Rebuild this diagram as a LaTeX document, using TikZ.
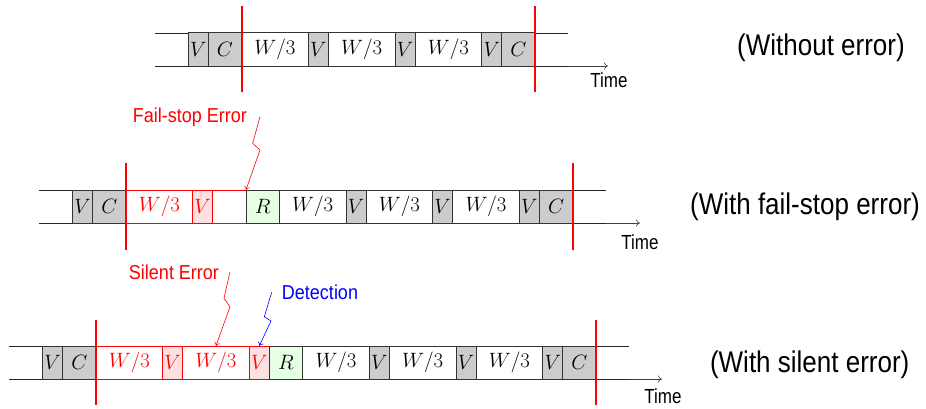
\documentclass[tikz,border=0pt]{standalone}
\usepackage{fontspec}
\newfontfamily\helv{Liberation Sans}
\usepackage{graphicx}
\usetikzlibrary{arrows.meta}
\newcommand{\tallsf}[2]{\scalebox{1}[#1]{#2}}
\tikzset{
  box/.style={draw=black!80, line width=0.7pt, minimum height=33.3pt, inner sep=0pt, outer sep=0pt, anchor=west, font=\fontsize{19.5}{20}\selectfont},
  vbox/.style={box, fill=gray!40, minimum width=20pt},
  cbox/.style={box, fill=gray!40, minimum width=33.33pt},
  wbox/.style={box, fill=white, minimum width=66.67pt},
  rbox/.style={box, fill=green!10, minimum width=33.33pt},
  errw/.style={wbox, draw=red, text=red},
  errv/.style={vbox, fill=red!12, draw=red, text=red},
  erre/.style={cbox, fill=white, draw=red},
  tline/.style={black!85, line width=0.9pt},
  axis/.style={black!75, line width=0.6pt, -{To[length=4pt,width=7pt]}},
  ckpt/.style={red, line width=2pt},
  timelbl/.style={font=\helv\fontsize{17}{17}\selectfont, anchor=base, inner sep=0pt},
  rowlbl/.style={font=\helv\fontsize{26}{26}\selectfont, anchor=base, inner sep=0pt},
  errlbl/.style={font=\helv\fontsize{18}{18}\selectfont, anchor=base, inner sep=0pt},
  errarrow/.style={line width=0.6pt, -{To[length=3.5pt,width=6pt]}},
}
\begin{document}
\begin{tikzpicture}[x=1pt,y=-1pt]
\useasboundingbox (0,0) rectangle (926,409);

% ---------- Row 1: without error ----------
\coordinate (s1t) at (155,33); \coordinate (s1b) at (155,66);
\coordinate (e1t) at (568,33); \coordinate (e1b) at (568,66);
\coordinate (t1) at (608,66);
\draw[tline] (s1t) -- (e1t);
\draw[tline] (s1b) -- (e1b);
\draw[axis] (e1b) -- (t1);
\node[vbox] (a1) at (188.33,49.5) {$V$};
\node[cbox] (a2) at (a1.east) {$C$};
\node[wbox] (a3) at (a2.east) {$W/3$};
\node[vbox] (a4) at (a3.east) {$V$};
\node[wbox] (a5) at (a4.east) {$W/3$};
\node[vbox] (a6) at (a5.east) {$V$};
\node[wbox] (a7) at (a6.east) {$W/3$};
\node[vbox] (a8) at (a7.east) {$V$};
\node[cbox] (a9) at (a8.east) {$C$};
\draw[ckpt] ([yshift=27pt]a2.north east) -- ([yshift=-26pt]a2.south east);
\draw[ckpt] ([yshift=27pt]a9.north east) -- ([yshift=-26pt]a9.south east);
\node[timelbl] (tm1) at (609,87.5) {\tallsf{1.2}{Time}};
\node[rowlbl] (l1) at (821,56) {\tallsf{1.15}{(Without error)}};

% ---------- Row 2: fail-stop error ----------
\coordinate (s2t) at (39.33,190); \coordinate (s2b) at (39.33,223);
\coordinate (e2t) at (606,190); \coordinate (e2b) at (606,223);
\coordinate (t2) at (640,223);
\draw[tline] (s2t) -- (e2t);
\draw[tline] (s2b) -- (e2b);
\draw[axis] (e2b) -- (t2);
\node[vbox] (b1) at (72.67,206.5) {$V$};
\node[cbox] (b2) at (b1.east) {$C$};
\node[errw] (b3) at (b2.east) {$W/3$};
\node[errv] (b4) at (b3.east) {$V$};
\node[erre] (b5) at (b4.east) {};
\node[rbox] (b6) at (b5.east) {$R$};
\node[wbox] (b7) at (b6.east) {$W/3$};
\node[vbox] (b8) at (b7.east) {$V$};
\node[wbox] (b9) at (b8.east) {$W/3$};
\node[vbox] (b10) at (b9.east) {$V$};
\node[wbox] (b11) at (b10.east) {$W/3$};
\node[vbox] (b12) at (b11.east) {$V$};
\node[cbox] (b13) at (b12.east) {$C$};
\draw[ckpt] ([yshift=27pt]b2.north east) -- ([yshift=-27pt]b2.south east);
\draw[ckpt] ([yshift=27pt]b13.north east) -- ([yshift=-27pt]b13.south east);
\node[timelbl] (tm2) at (640,249.5) {\tallsf{1.2}{Time}};
\node[rowlbl] (l2) at (805,214.5) {\tallsf{1.15}{(With fail-stop error)}};

\node[errlbl, text=red] (fse) at (190,122.7) {\tallsf{1.12}{Fail-stop Error}};
\coordinate (fs0) at (260,116.7);
\coordinate (fs1) at (252.7,143.3);
\coordinate (fs2) at (260,150);
\draw[errarrow, red] (fs0) -- (fs1) -- (fs2) -- (b5.north east);

% ---------- Row 3: silent error ----------
\coordinate (s3t) at (9.33,346); \coordinate (s3b) at (9.33,379);
\coordinate (e3t) at (629.33,346); \coordinate (e3b) at (629.33,379);
\coordinate (t3) at (662,379);
\draw[tline] (s3t) -- (e3t);
\draw[tline] (s3b) -- (e3b);
\draw[axis] (e3b) -- (t3);
\node[vbox] (c1) at (42.67,362.5) {$V$};
\node[cbox] (c2) at (c1.east) {$C$};
\node[errw] (c3) at (c2.east) {$W/3$};
\node[errv] (c4) at (c3.east) {$V$};
\node[errw] (c5) at (c4.east) {$W/3$};
\node[errv] (c6) at (c5.east) {$V$};
\node[rbox] (c7) at (c6.east) {$R$};
\node[wbox] (c8) at (c7.east) {$W/3$};
\node[vbox] (c9) at (c8.east) {$V$};
\node[wbox] (c10) at (c9.east) {$W/3$};
\node[vbox] (c11) at (c10.east) {$V$};
\node[wbox] (c12) at (c11.east) {$W/3$};
\node[vbox] (c13) at (c12.east) {$V$};
\node[cbox] (c14) at (c13.east) {$C$};
\draw[ckpt] ([yshift=26pt]c2.north east) -- ([yshift=-26pt]c2.south east);
\draw[ckpt] ([yshift=26pt]c14.north east) -- ([yshift=-26pt]c14.south east);
\node[timelbl] (tm3) at (663,403) {\tallsf{1.2}{Time}};
\node[rowlbl] (l3) at (809.7,372) {\tallsf{1.15}{(With silent error)}};

\node[errlbl, text=red] (sle) at (174,279.5) {\tallsf{1.12}{Silent Error}};
\coordinate (se0) at (230,271.7);
\coordinate (se1) at (224,298.3);
\coordinate (se2) at (230,306.7);
\draw[errarrow, red] (se0) -- (se1) -- (se2) -- (c5.north);

\node[errlbl, text=blue] (det) at (320,299) {\tallsf{1.12}{Detection}};
\coordinate (de0) at (271.7,292.3);
\coordinate (de1) at (264.3,316.7);
\coordinate (de2) at (271,321);
\draw[errarrow, blue] (de0) -- (de1) -- (de2) -- (c6.north);
\end{tikzpicture}
\end{document}
